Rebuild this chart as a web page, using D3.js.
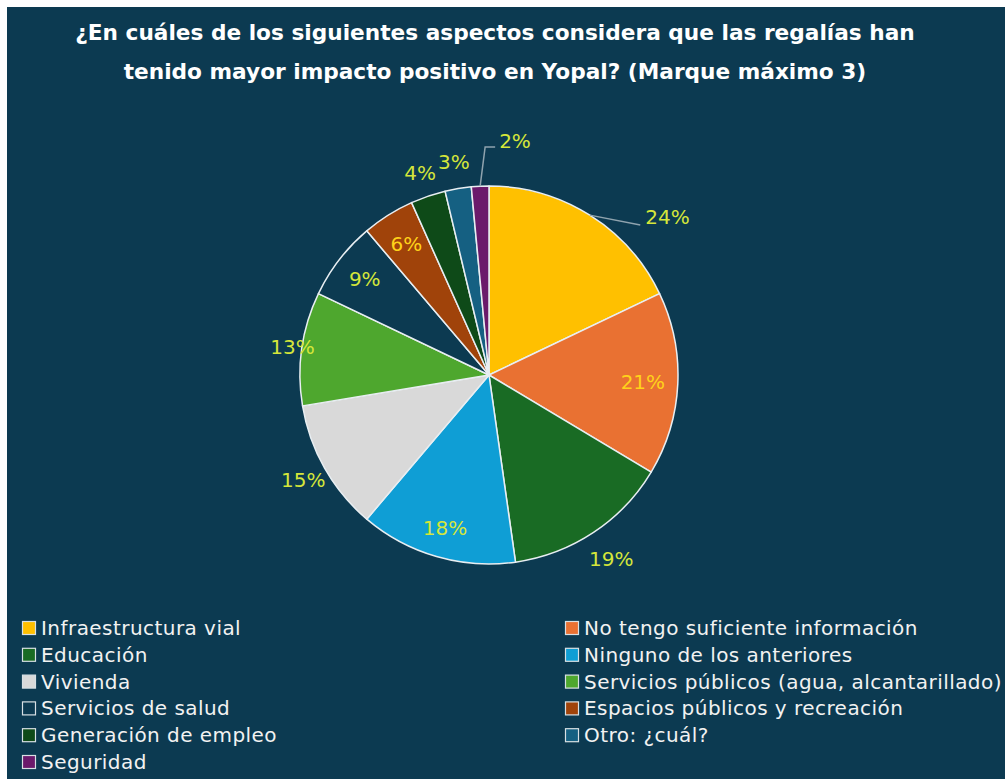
<!DOCTYPE html>
<html>
<head>
<meta charset="utf-8">
<script src="https://cdn.jsdelivr.net/npm/d3@7"></script>
<style>
  html, body { margin: 0; padding: 0; background: #ffffff; }
  svg { display: block; }
</style>
</head>
<body>
<svg id="chart" width="1005" height="779"></svg>
<script>
// ---- data ----
const titleLines = [
  "¿En cuáles de los siguientes aspectos considera que las regalías han",
  "tenido mayor impacto positivo en Yopal? (Marque máximo 3)"
];
const categories = [
  "Infraestructura vial",
  "No tengo suficiente información",
  "Educación",
  "Ninguno de los anteriores",
  "Vivienda",
  "Servicios públicos (agua, alcantarillado)",
  "Servicios de salud",
  "Espacios públicos y recreación",
  "Generación de empleo",
  "Otro: ¿cuál?",
  "Seguridad"
];
const values = [24, 21, 19, 18, 15, 13, 9, 6, 4, 3, 2];
const labels = ["24%", "21%", "19%", "18%", "15%", "13%", "9%", "6%", "4%", "3%", "2%"];

// ---- style ----
const colors = ["#ffc000", "#e97132", "#196b24", "#0f9ed5", "#d9d9d9", "#4ea72e",
                "#0c3a51", "#a0430a", "#0e4a18", "#156082", "#6b1a6b"];
const labelColors = ["#d5e63a", "#ffd21a", "#d5e63a", "#d5e63a", "#d5e63a", "#d5e63a",
                     "#d5e63a", "#ffd21a", "#d5e63a", "#d5e63a", "#d5e63a"];
// label placement: radius factor relative to pie radius; "leader" for callouts
const labelMode = ["leader", 0.815, 1.17, 0.84, 1.13, 1.05, 0.83, 0.82, 1.13, 1.14, "leader2"];

const W = 1005, H = 779;
const bg = "#0c3a51";
const svg = d3.select("#chart");

svg.append("rect").attr("x", 0).attr("y", 0).attr("width", W).attr("height", H).attr("fill", "#ffffff");
svg.append("rect").attr("x", 7).attr("y", 7).attr("width", W - 7).attr("height", H - 7).attr("fill", bg);

// title (fit to target width)
const titleSel = svg.append("g").selectAll("text").data(titleLines).join("text")
  .attr("x", 495).attr("y", (d, i) => 40 + i * 39)
  .attr("text-anchor", "middle")
  .attr("fill", "#ffffff")
  .attr("font-family", "DejaVu Sans, Liberation Sans, sans-serif")
  .attr("font-weight", "bold")
  .attr("font-size", 20)
  .text(d => d);
const w0 = titleSel.nodes()[0].getComputedTextLength();
const tfs = 20 * 840 / w0;
titleSel.attr("font-size", tfs);

// pie
const cx = 489, cy = 375, R = 189;
const pie = d3.pie().sort(null).value(d => d)(values);
const arc = d3.arc().innerRadius(0).outerRadius(R);
const g = svg.append("g").attr("transform", `translate(${cx},${cy})`);

g.selectAll("path").data(pie).join("path")
  .attr("d", arc)
  .attr("fill", (d, i) => colors[i])
  .attr("stroke", "#e8eef2")
  .attr("stroke-width", 1.5)
  .attr("stroke-linejoin", "round");

function polar(angle, r) {
  return [Math.sin(angle) * r, -Math.cos(angle) * r];
}

const lg = g.append("g");
pie.forEach((d, i) => {
  const mid = (d.startAngle + d.endAngle) / 2;
  const mode = labelMode[i];
  const text = lg.append("text")
    .attr("fill", labelColors[i])
    .attr("font-family", "DejaVu Sans, Liberation Sans, sans-serif")
    .attr("font-size", 20)
    .attr("dominant-baseline", "central")
    .text(labels[i]);
  if (mode === "leader") {
    const p0 = polar(mid, R);
    const p1 = polar(mid + 0.227, R * 1.127);
    lg.append("polyline")
      .attr("points", [p0, p1].map(p => p.join(",")).join(" "))
      .attr("fill", "none").attr("stroke", "#8fa3ae").attr("stroke-width", 1.5);
    text.attr("x", p1[0] + 5).attr("y", p1[1] - 8).attr("text-anchor", "start");
  } else if (mode === "leader2") {
    const p0 = polar(mid, R);
    const p1 = [p0[0] + 5, -R * 1.207];
    const p2 = [p1[0] + 10, p1[1]];
    lg.append("polyline")
      .attr("points", [p0, p1, p2].map(p => p.join(",")).join(" "))
      .attr("fill", "none").attr("stroke", "#8fa3ae").attr("stroke-width", 1.5);
    text.attr("x", p2[0] + 4).attr("y", p2[1] - 6).attr("text-anchor", "start");
  } else {
    const p = polar(mid, R * mode);
    text.attr("x", p[0]).attr("y", p[1]).attr("text-anchor", "middle");
  }
});

// legend (two columns, row-major)
const legX = [22, 565], legY0 = 628, legDy = 26.8;
const leg = svg.append("g");
categories.forEach((c, i) => {
  const col = i % 2, row = Math.floor(i / 2);
  const x = legX[col], y = legY0 + row * legDy;
  leg.append("rect")
    .attr("x", x + 0.5).attr("y", y - 6.5).attr("width", 13).attr("height", 13)
    .attr("fill", colors[i])
    .attr("stroke", "#d8e0e4").attr("stroke-width", 1.2);
  leg.append("text")
    .attr("x", x + 19).attr("y", y)
    .attr("dominant-baseline", "central")
    .attr("fill", "#f2f2f2")
    .attr("font-family", "DejaVu Sans, Liberation Sans, sans-serif")
    .attr("font-size", 20)
    .attr("letter-spacing", 0.45)
    .text(c);
});
</script>
</body>
</html>
